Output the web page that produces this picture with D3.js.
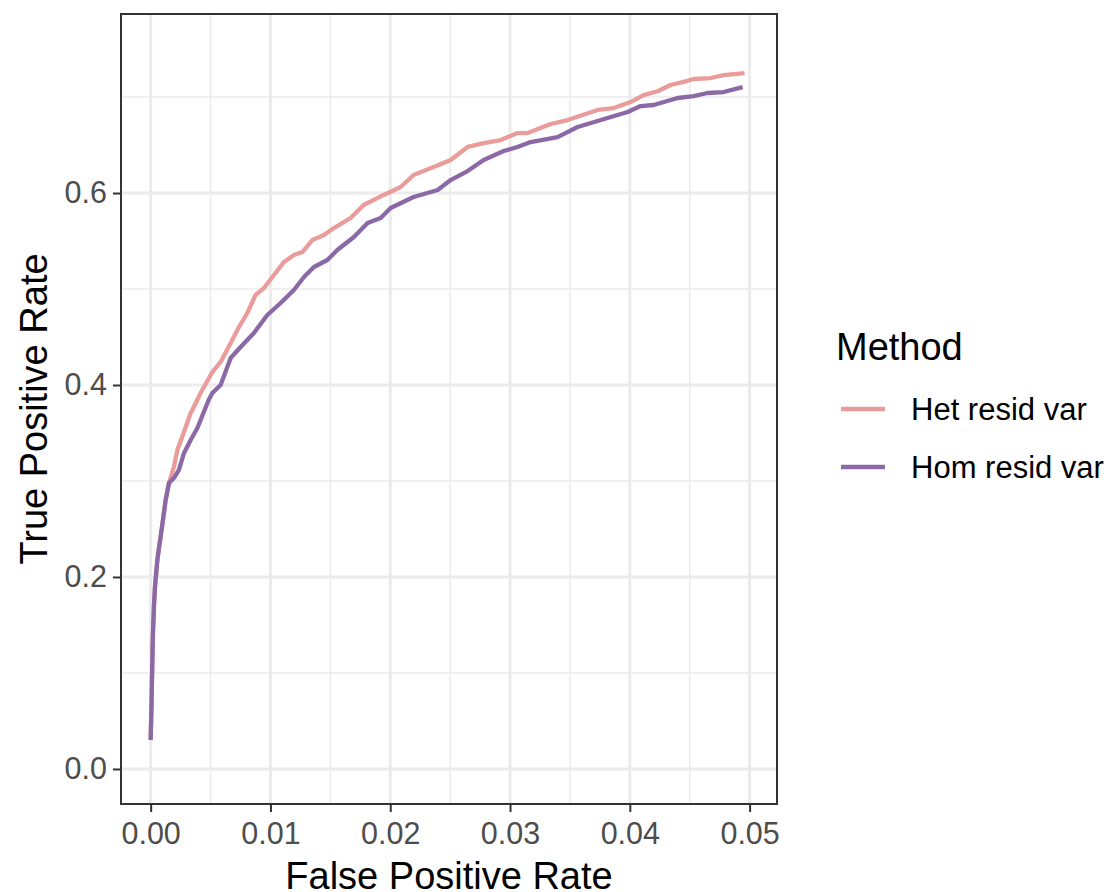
<!DOCTYPE html>
<html>
<head>
<meta charset="utf-8">
<script src="https://cdn.jsdelivr.net/npm/d3@7"></script>
<style>
  body { margin: 0; background: #fff; }
  svg { display: block; font-family: "Liberation Sans", Arial, sans-serif; }
</style>
</head>
<body>
<svg id="chart" width="1112" height="892"></svg>
<script>
// ---- Data ----
const seriesNames = ["Het resid var", "Hom resid var"];
const seriesColors = ["#E99C9A", "#8A69A6"];

const hetFPR = [0, 0.00004, 0.00008, 0.000125, 0.00019, 0.00028, 0.00036, 0.00056, 0.00069, 0.00083, 0.00106, 0.00125, 0.00153,
  0.00194, 0.00223, 0.00275, 0.00334, 0.00348, 0.00417, 0.00515, 0.00584, 0.00668, 0.00737, 0.00807, 0.00876, 0.00946,
  0.01029, 0.01113, 0.01196, 0.01266, 0.0135, 0.01447, 0.0153, 0.01669, 0.01778, 0.01945, 0.02087, 0.02195, 0.02362,
  0.02504, 0.02646, 0.0278, 0.02922, 0.03063, 0.03147, 0.03339, 0.03481, 0.03731, 0.03865, 0.04007, 0.04115, 0.04232,
  0.0434, 0.04441, 0.04533, 0.04674, 0.04783, 0.04958];
const hetTPR = [0.0302, 0.051, 0.0719, 0.103, 0.1417, 0.171, 0.1896, 0.2177, 0.230, 0.2417, 0.2625, 0.2802, 0.2979,
  0.3146, 0.3323, 0.35, 0.3708, 0.374, 0.3917, 0.4135, 0.424, 0.4438, 0.4604, 0.475, 0.4938, 0.501,
  0.5146, 0.5281, 0.5354, 0.5385, 0.551, 0.5563, 0.5635, 0.574, 0.5875, 0.598, 0.6063, 0.6188, 0.627,
  0.6344, 0.648, 0.652, 0.6552, 0.6625, 0.6625, 0.6719, 0.676, 0.6865, 0.6885, 0.6948, 0.702, 0.706,
  0.7125, 0.7156, 0.7188, 0.7198, 0.7229, 0.725];

const homFPR = [0, 0.00004, 0.00008, 0.000125, 0.00019, 0.00028, 0.00036, 0.00056, 0.00069, 0.00083, 0.00106, 0.00125, 0.00153,
  0.00194, 0.00236, 0.00278, 0.00334, 0.0039, 0.00417, 0.00484, 0.00515, 0.00584, 0.00668, 0.00751, 0.00862, 0.00974,
  0.01085, 0.01196, 0.0128, 0.01363, 0.01475, 0.01558, 0.01697, 0.01811, 0.0192, 0.02003, 0.02195, 0.02396, 0.02504,
  0.02646, 0.0278, 0.02947, 0.03063, 0.03172, 0.03397, 0.03564, 0.03731, 0.03898, 0.03982, 0.0409, 0.04199, 0.04399,
  0.04533, 0.04649, 0.04783, 0.04942];
const homTPR = [0.0302, 0.051, 0.0719, 0.103, 0.1417, 0.171, 0.1896, 0.2177, 0.230, 0.2417, 0.2625, 0.2802, 0.2979,
  0.3031, 0.3115, 0.329, 0.3427, 0.3552, 0.3635, 0.3844, 0.3917, 0.4, 0.4281, 0.4396, 0.4542, 0.4729,
  0.4854, 0.499, 0.5125, 0.5229, 0.5302, 0.5406, 0.5542, 0.5688, 0.574, 0.5844, 0.5958, 0.6031, 0.6135,
  0.6229, 0.6344, 0.6438, 0.6479, 0.6531, 0.6583, 0.6688, 0.675, 0.6813, 0.6844, 0.6906, 0.6917, 0.699,
  0.701, 0.7042, 0.7052, 0.7104];

const xTicks = [0, 0.01, 0.02, 0.03, 0.04, 0.05];
const xTickLabels = ["0.00", "0.01", "0.02", "0.03", "0.04", "0.05"];
const xMinor = [0.005, 0.015, 0.025, 0.035, 0.045];
const yTicks = [0, 0.2, 0.4, 0.6];
const yTickLabels = ["0.0", "0.2", "0.4", "0.6"];
const yMinor = [0.1, 0.3, 0.5, 0.7];

const xTitle = "False Positive Rate";
const yTitle = "True Positive Rate";
const legendTitle = "Method";

// ---- Layout ----
const panel = { left: 121, right: 777, top: 14, bottom: 804 };
const svg = d3.select("#chart");
const FONT = '"Liberation Sans", Arial, sans-serif';

const x = d3.scaleLinear().domain([-0.002476, 0.052287]).range([panel.left, panel.right]);
const y = d3.scaleLinear().domain([-0.0365, 0.7865]).range([panel.bottom, panel.top]);

const grid = svg.append("g");
// minor gridlines
grid.selectAll(".xminor").data(xMinor).enter().append("line")
  .attr("x1", d => x(d)).attr("x2", d => x(d))
  .attr("y1", panel.top).attr("y2", panel.bottom)
  .attr("stroke", "#EBEBEB").attr("stroke-width", 1.5);
grid.selectAll(".yminor").data(yMinor).enter().append("line")
  .attr("y1", d => y(d)).attr("y2", d => y(d))
  .attr("x1", panel.left).attr("x2", panel.right)
  .attr("stroke", "#EBEBEB").attr("stroke-width", 1.5);
// major gridlines
grid.selectAll(".xmajor").data(xTicks).enter().append("line")
  .attr("x1", d => x(d)).attr("x2", d => x(d))
  .attr("y1", panel.top).attr("y2", panel.bottom)
  .attr("stroke", "#EBEBEB").attr("stroke-width", 3);
grid.selectAll(".ymajor").data(yTicks).enter().append("line")
  .attr("y1", d => y(d)).attr("y2", d => y(d))
  .attr("x1", panel.left).attr("x2", panel.right)
  .attr("stroke", "#EBEBEB").attr("stroke-width", 3);

// lines
const series = [
  { name: seriesNames[0], color: seriesColors[0], fpr: hetFPR, tpr: hetTPR },
  { name: seriesNames[1], color: seriesColors[1], fpr: homFPR, tpr: homTPR }
];
const lineGen = d3.line().x(d => x(d[0])).y(d => y(d[1]));
svg.append("g").selectAll("path").data(series).enter().append("path")
  .attr("d", s => lineGen(s.fpr.map((f, i) => [f, s.tpr[i]])))
  .attr("fill", "none")
  .attr("stroke", s => s.color)
  .attr("stroke-width", 4.3)
  .attr("stroke-linejoin", "round")
  .attr("stroke-linecap", "butt");

// panel border
svg.append("rect")
  .attr("x", panel.left).attr("y", panel.top)
  .attr("width", panel.right - panel.left).attr("height", panel.bottom - panel.top)
  .attr("fill", "none").attr("stroke", "#333333").attr("stroke-width", 2);

// axes
const xAxis = d3.axisBottom(x).tickValues(xTicks)
  .tickFormat((d, i) => xTickLabels[i]).tickSize(7).tickSizeOuter(0).tickPadding(10);
const gx = svg.append("g").attr("transform", `translate(0,${panel.bottom + 1})`).call(xAxis);
gx.select(".domain").remove();
gx.selectAll(".tick line").attr("stroke", "#333333").attr("stroke-width", 2);
gx.selectAll(".tick text").attr("fill", "#4D4D4D").style("font-size", "30.5px")
  .style("font-family", FONT);

const yAxis = d3.axisLeft(y).tickValues(yTicks)
  .tickFormat((d, i) => yTickLabels[i]).tickSize(7).tickSizeOuter(0).tickPadding(6);
const gy = svg.append("g").attr("transform", `translate(${panel.left - 1},0)`).call(yAxis);
gy.select(".domain").remove();
gy.selectAll(".tick line").attr("stroke", "#333333").attr("stroke-width", 2);
gy.selectAll(".tick text").attr("fill", "#4D4D4D").style("font-size", "30.5px")
  .style("font-family", FONT);

// axis titles
svg.append("text")
  .attr("x", (panel.left + panel.right) / 2).attr("y", 889)
  .attr("text-anchor", "middle").attr("fill", "#000")
  .style("font-size", "38px").text(xTitle);
svg.append("text")
  .attr("transform", `translate(47,${(panel.top + panel.bottom) / 2}) rotate(-90)`)
  .attr("text-anchor", "middle").attr("fill", "#000")
  .style("font-size", "38px").text(yTitle);

// legend
const lg = svg.append("g");
lg.append("text").attr("x", 836).attr("y", 360).attr("fill", "#000")
  .style("font-size", "38px").text(legendTitle);
const legendY = [409, 467];
series.forEach((s, i) => {
  lg.append("line").attr("x1", 841).attr("x2", 885)
    .attr("y1", legendY[i]).attr("y2", legendY[i])
    .attr("stroke", s.color).attr("stroke-width", 4.3);
  lg.append("text").attr("x", 911).attr("y", legendY[i]).attr("dy", "0.36em")
    .attr("fill", "#000").style("font-size", "31px").text(s.name);
});
</script>
</body>
</html>
